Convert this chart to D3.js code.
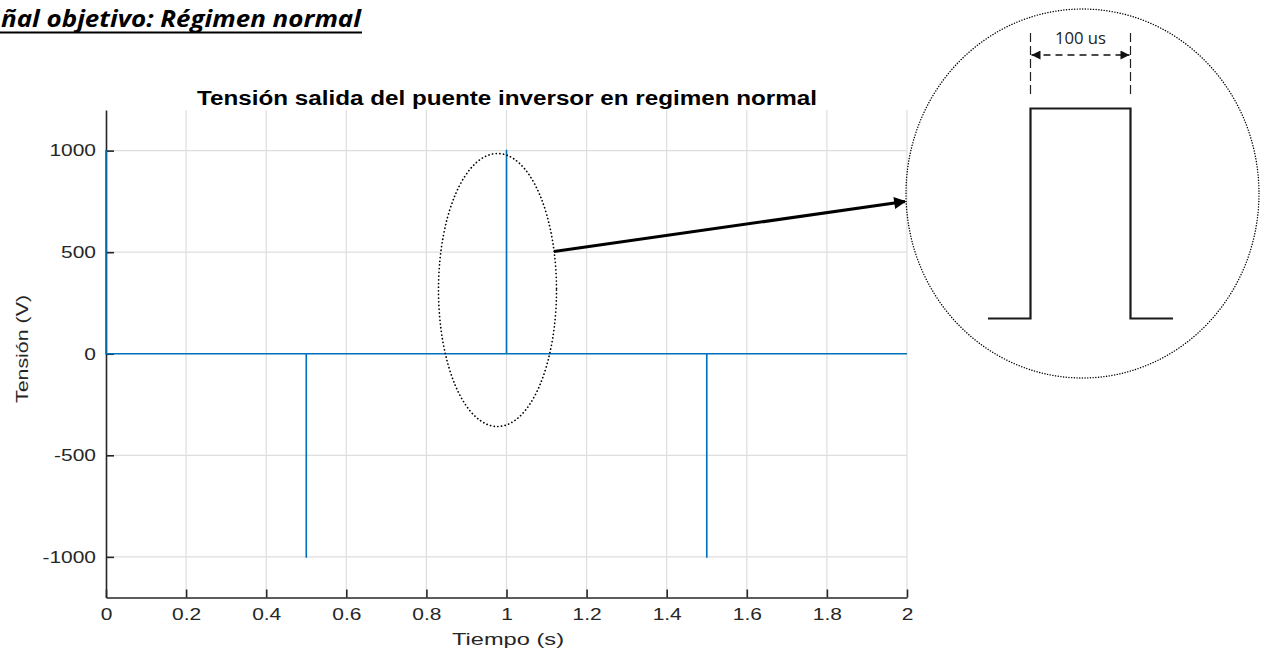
<!DOCTYPE html>
<html>
<head>
<meta charset="utf-8">
<script src="https://cdn.jsdelivr.net/npm/d3@7"></script>
<style>
  body { margin: 0; background: #fff; }
  svg { display: block; }
  text { font-family: "Liberation Sans", Arial, sans-serif; }
</style>
</head>
<body>
<div id="chart"></div>
<script>
// pulses of the inverter output (time in s, value in V)
const pulseTimes = [0, 0.5, 1, 1.5];
const pulseValues = [1000, -1000, 1000, -1000];
const pulseWidth = 0.0001; // 100 us
const tEnd = 2;

const xTicks = [0, 0.2, 0.4, 0.6, 0.8, 1, 1.2, 1.4, 1.6, 1.8, 2];
const yTicks = [-1000, -500, 0, 500, 1000];

const title = 'Tensión salida del puente inversor en regimen normal';
const heading = 'ñal objetivo: Régimen normal';
const zoomLabel = '100 us';

const W = 1269, H = 650;
const svg = d3.select('#chart').append('svg')
  .attr('width', W).attr('height', H);

// the exported matlab figure is stretched sideways, so widen the text
const stretch = (sel, k) => sel.each(function () {
  const w = this.getComputedTextLength();
  d3.select(this).attr('textLength', w * k).attr('lengthAdjust', 'spacingAndGlyphs');
});

const defs = svg.append('defs');
defs.append('marker')
  .attr('id', 'arrowBig')
  .attr('viewBox', '0 0 10 10')
  .attr('refX', 9).attr('refY', 5)
  .attr('markerWidth', 5).attr('markerHeight', 4)
  .attr('markerUnits', 'strokeWidth')
  .attr('orient', 'auto')
  .append('path').attr('d', 'M0,0L10,5L0,10Z').attr('fill', '#000');
defs.append('marker')
  .attr('id', 'arrowDim')
  .attr('viewBox', '0 0 10 10')
  .attr('refX', 10).attr('refY', 5)
  .attr('markerWidth', 13).attr('markerHeight', 9)
  .attr('markerUnits', 'userSpaceOnUse')
  .attr('orient', 'auto-start-reverse')
  .append('path').attr('d', 'M0,0L10,5L0,10Z').attr('fill', '#111');

// ---- heading (the document crop starts mid-word) ----
svg.append('text')
  .attr('x', 1).attr('y', 26.5)
  .attr('textLength', 360).attr('lengthAdjust', 'spacingAndGlyphs')
  .style('font-family', '"Open Sans", sans-serif')
  .style('font-weight', 700).style('font-style', 'italic')
  .style('font-size', '23px').attr('fill', '#000')
  .text(heading);
svg.append('line')
  .attr('x1', 0).attr('x2', 362).attr('y1', 32.5).attr('y2', 32.5)
  .attr('stroke', '#000').attr('stroke-width', 2);

// ---- main axes ----
const x = d3.scaleLinear().domain([0, 2]).range([106, 907]);
const y = d3.scaleLinear().domain([-1200, 1200]).range([597.5, 110]);

const grid = svg.append('g');
grid.selectAll('.gx').data(xTicks.slice(1)).join('line')
  .attr('x1', d => x(d)).attr('x2', d => x(d))
  .attr('y1', y(-1200)).attr('y2', y(1200))
  .attr('stroke', '#dedede').attr('stroke-width', 1.2);
grid.selectAll('.gy').data(yTicks).join('line')
  .attr('x1', x(0)).attr('x2', x(2))
  .attr('y1', d => y(d)).attr('y2', d => y(d))
  .attr('stroke', '#dedede').attr('stroke-width', 1.2);

const xAxis = svg.append('g')
  .attr('transform', `translate(0,${y(-1200)})`)
  .call(d3.axisBottom(x).tickValues(xTicks).tickFormat(d3.format('~g'))
    .tickSizeInner(-8).tickSizeOuter(0).tickPadding(10));
const yAxis = svg.append('g')
  .attr('transform', `translate(${x(0)},0)`)
  .call(d3.axisLeft(y).tickValues(yTicks).tickFormat(d => d)
    .tickSizeInner(-8).tickSizeOuter(0).tickPadding(10));
[xAxis, yAxis].forEach(a => {
  a.select('.domain').attr('stroke', '#262626').attr('stroke-width', 1.6);
  a.selectAll('.tick line').attr('stroke', '#262626').attr('stroke-width', 1.6);
  a.selectAll('.tick text').attr('fill', '#262626')
    .style('font-size', '16.5px').style('font-family', '"Liberation Sans", Arial, sans-serif')
    .call(stretch, 1.27);
});
xAxis.selectAll('.tick text').attr('dy', '0.74em');

// ---- signal ----
const pts = [[0, 0]];
pulseTimes.forEach((t, i) => {
  pts.push([t, 0], [t, pulseValues[i]], [t + pulseWidth, pulseValues[i]], [t + pulseWidth, 0]);
});
pts.push([tEnd, 0]);
const line = d3.line().x(d => x(d[0])).y(d => y(d[1]));
svg.append('path').datum(pts)
  .attr('d', line)
  .attr('fill', 'none')
  .attr('stroke', '#0072BD')
  .attr('stroke-width', 1.6);

// ---- titles ----
svg.append('text')
  .attr('x', 507).attr('y', 105)
  .attr('text-anchor', 'middle')
  .style('font-weight', 'bold').style('font-size', '20px')
  .attr('fill', '#000')
  .attr('textLength', 620).attr('lengthAdjust', 'spacingAndGlyphs')
  .text(title);
svg.append('text')
  .attr('x', 508).attr('y', 645)
  .attr('text-anchor', 'middle')
  .style('font-size', '16.5px').attr('fill', '#262626')
  .attr('textLength', 112).attr('lengthAdjust', 'spacingAndGlyphs')
  .text('Tiempo (s)');
svg.append('text')
  .attr('transform', `translate(28,349) rotate(-90)`)
  .attr('text-anchor', 'middle')
  .style('font-size', '17px').attr('fill', '#262626')
  .attr('textLength', 108).attr('lengthAdjust', 'spacingAndGlyphs')
  .text('Tensión (V)');

// ---- zoom callout ----
const zoomT = pulseTimes[2];
const zoomV = pulseValues[2];
svg.append('ellipse')
  .attr('cx', x(zoomT) - 9).attr('cy', 290)
  .attr('rx', 59).attr('ry', 136.5)
  .attr('fill', 'none').attr('stroke', '#000')
  .attr('stroke-width', 1.7).attr('stroke-dasharray', '0.1 3.6')
  .attr('stroke-linecap', 'round');

svg.append('line')
  .attr('x1', 554).attr('y1', 251.5)
  .attr('x2', 905).attr('y2', 201.5)
  .attr('stroke', '#000').attr('stroke-width', 3)
  .attr('marker-end', 'url(#arrowBig)');

svg.append('ellipse')
  .attr('cx', 1082.5).attr('cy', 193.5)
  .attr('rx', 176.5).attr('ry', 184.5)
  .attr('fill', 'none').attr('stroke', '#000')
  .attr('stroke-width', 1.4).attr('stroke-dasharray', '0.1 2.6')
  .attr('stroke-linecap', 'round');

// inset: magnified pulse of width pulseWidth
const xi = d3.scaleLinear().domain([zoomT - 0.425 * pulseWidth, zoomT + 1.425 * pulseWidth]).range([988, 1173]);
const yi = d3.scaleLinear().domain([0, zoomV]).range([318.5, 108.5]);
const insetPts = [
  [xi.domain()[0], 0], [zoomT, 0], [zoomT, zoomV],
  [zoomT + pulseWidth, zoomV], [zoomT + pulseWidth, 0], [xi.domain()[1], 0]
];
svg.append('path').datum(insetPts)
  .attr('d', d3.line().x(d => xi(d[0])).y(d => yi(d[1])))
  .attr('fill', 'none').attr('stroke', '#1a1a1a')
  .attr('stroke-width', 2.2).attr('stroke-linejoin', 'miter');

[zoomT, zoomT + pulseWidth].forEach(t => {
  svg.append('line')
    .attr('x1', xi(t)).attr('x2', xi(t))
    .attr('y1', 33).attr('y2', 97)
    .attr('stroke', '#222').attr('stroke-width', 1.2)
    .attr('stroke-dasharray', '9 4');
});
svg.append('line')
  .attr('x1', xi(zoomT) + 1).attr('x2', xi(zoomT + pulseWidth) - 1)
  .attr('y1', 55).attr('y2', 55)
  .attr('stroke', '#111').attr('stroke-width', 1.5)
  .attr('stroke-dasharray', '7 5')
  .attr('marker-start', 'url(#arrowDim)')
  .attr('marker-end', 'url(#arrowDim)');
svg.append('text')
  .attr('x', 1080.5).attr('y', 43.5)
  .attr('text-anchor', 'middle')
  .style('font-family', '"Open Sans", sans-serif')
  .style('font-size', '16px').attr('fill', '#222')
  .attr('textLength', 51).attr('lengthAdjust', 'spacingAndGlyphs')
  .text(zoomLabel);
</script>
</body>
</html>
